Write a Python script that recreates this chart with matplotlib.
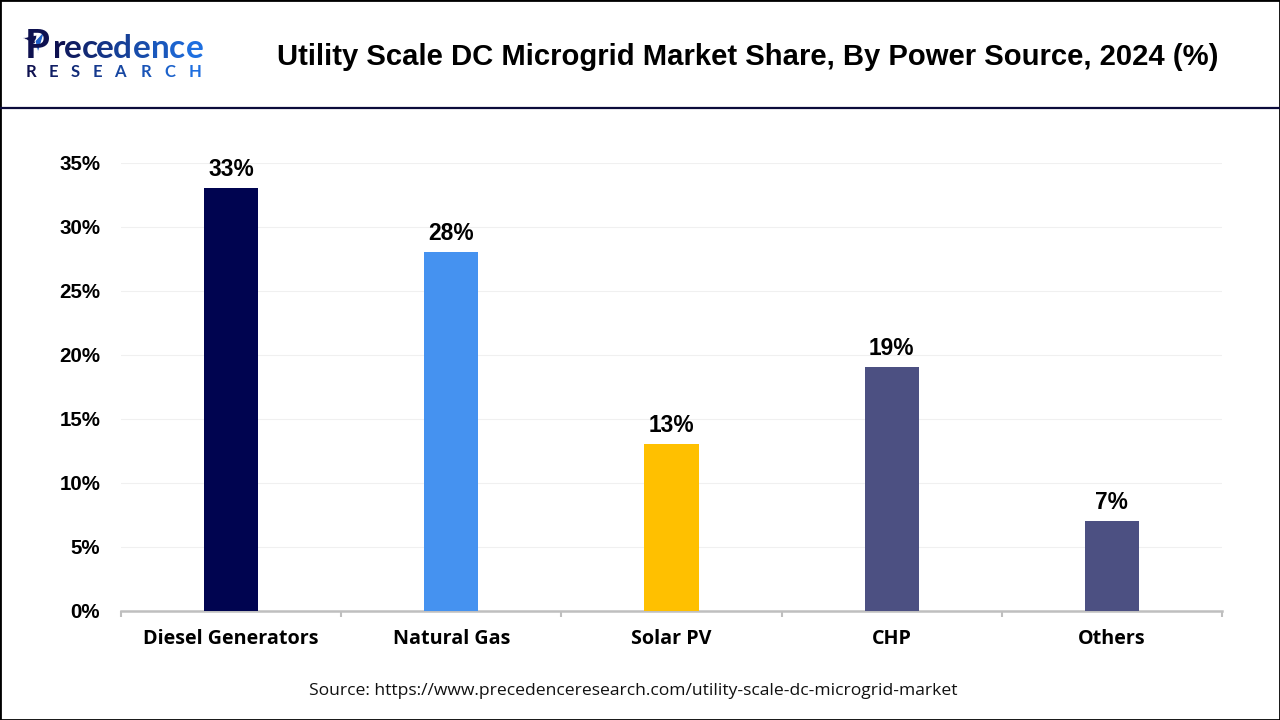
"""
Utility scale DC microgrid market share by power source, bar chart with logo header.
"""

import matplotlib

matplotlib.use("Agg")
import matplotlib.pyplot as plt
import matplotlib.patches as mpatches
from matplotlib.lines import Line2D

W, H = 1280, 720

categories = ["Diesel Generators", "Natural Gas", "Solar PV", "CHP", "Others"]
shares = [33, 28, 13, 19, 7]
y_ticks = [0, 5, 10, 15, 20, 25, 30, 35]

BAR_COLORS = ["#000450", "#4592F0", "#FFC000", "#4C5082", "#4C5082"]
NAVY = "#0B0B3B"
TEXT = "#000000"
AXIS_GREY = "#BFBFBF"
GRID_GREY = "#F0F0F0"
FONT = "Liberation Sans"
LOGO_DARK = "#0E1150"
LOGO_BLUE = "#1E6FE0"


def fx(px):
    return px / W


def fy(py):
    return 1 - py / H


def mix(c1, c2, t):
    a = matplotlib.colors.to_rgb(c1)
    b = matplotlib.colors.to_rgb(c2)
    return tuple(a[i] + (b[i] - a[i]) * t for i in range(3))


def draw_logo(fig):
    fig.text(fx(25), fy(58), "P", fontsize=29, fontweight="bold", family="Lato", color=LOGO_DARK, va="baseline")

    # paper plane over the P
    wing = mpatches.Polygon(
        [(fx(23), fy(38)), (fx(37), fy(35)), (fx(35), fy(44))],
        closed=True, transform=fig.transFigure, facecolor=LOGO_DARK, edgecolor="white", linewidth=0.5,
    )
    fig.add_artist(wing)
    plane = mpatches.Polygon(
        [(fx(45), fy(30)), (fx(35), fy(41)), (fx(38), fy(53))],
        closed=True, transform=fig.transFigure, facecolor="#1F5FC8", edgecolor="white", linewidth=0.7,
    )
    fig.add_artist(plane)

    word = "recedence"
    xs = [53, 64, 82, 96, 113, 133, 151, 169, 186]
    for i, (ch, x) in enumerate(zip(word, xs)):
        col = mix(LOGO_DARK, LOGO_BLUE, i / (len(word) - 1))
        fig.text(fx(x), fy(58), ch, fontsize=24, fontweight="bold", family="Lato", color=col, va="baseline")

    word2 = "RESEARCH"
    xs2 = [26, 49, 71, 93, 114, 141, 164, 189]
    for i, (ch, x) in enumerate(zip(word2, xs2)):
        col = mix(LOGO_DARK, LOGO_BLUE, i / (len(word2) - 1))
        fig.text(fx(x), fy(77), ch, fontsize=12, fontweight="bold", family="Lato", color=col, va="baseline")


fig = plt.figure(figsize=(W / 100, H / 100), dpi=100, facecolor="white")
plt.rcParams["font.family"] = FONT

# outer frame and header rule
fig.add_artist(mpatches.Rectangle((0, 0), 1, 1, transform=fig.transFigure, fill=False, edgecolor="black", linewidth=2))
fig.add_artist(Line2D([0, 1], [fy(107.5), fy(107.5)], transform=fig.transFigure, color=NAVY, linewidth=1.6))

draw_logo(fig)

fig.text(fx(748), fy(57), "Utility Scale DC Microgrid Market Share, By Power Source, 2024 (%)",
         fontsize=21.1, fontweight="bold", family=FONT, color=TEXT, ha="center", va="center")

ax = fig.add_axes([fx(121), fy(610.5), (1222 - 121) / W, (610.5 - 162.5) / H])
x = list(range(len(categories)))
bars = ax.bar(x, shares, width=0.247, color=BAR_COLORS, zorder=3)
ax.set_xlim(-0.5, len(categories) - 0.5)
ax.set_ylim(0, 35)

ax.set_yticks(y_ticks)
ax.set_yticklabels([f"{v}%" for v in y_ticks], fontsize=14.8, fontweight="bold", color=TEXT)
ax.tick_params(axis="y", length=0, pad=15)
ax.grid(axis="y", color=GRID_GREY, linewidth=0.8, zorder=0)
ax.set_axisbelow(True)

# category labels sit in the middle, ticks mark the band edges
ax.set_xticks([i - 0.5 for i in range(len(categories) + 1)])
ax.set_xticklabels([])
ax.tick_params(axis="x", length=4, width=1.5, color=AXIS_GREY)
for i, name in enumerate(categories):
    ax.annotate(name, (i, 0), xycoords=("data", "axes fraction"), xytext=(0, -29), textcoords="offset pixels",
                ha="center", va="center", fontsize=14.2, fontweight="bold", family="Open Sans", color=TEXT)

for spine in ["top", "right", "left"]:
    ax.spines[spine].set_visible(False)
ax.spines["bottom"].set_color(AXIS_GREY)
ax.spines["bottom"].set_linewidth(1.8)

for b, v in zip(bars, shares):
    ax.annotate(f"{v}%", (b.get_x() + b.get_width() / 2, v), xytext=(0, 7), textcoords="offset pixels",
                ha="center", va="bottom", fontsize=16.4, fontweight="bold", color=TEXT)

fig.text(fx(633), fy(691), "Source: https://www.precedenceresearch.com/utility-scale-dc-microgrid-market",
         fontsize=12.6, family="Open Sans", color="#111111", ha="center", va="center")

fig.savefig("out.png", dpi=100, facecolor="white")
